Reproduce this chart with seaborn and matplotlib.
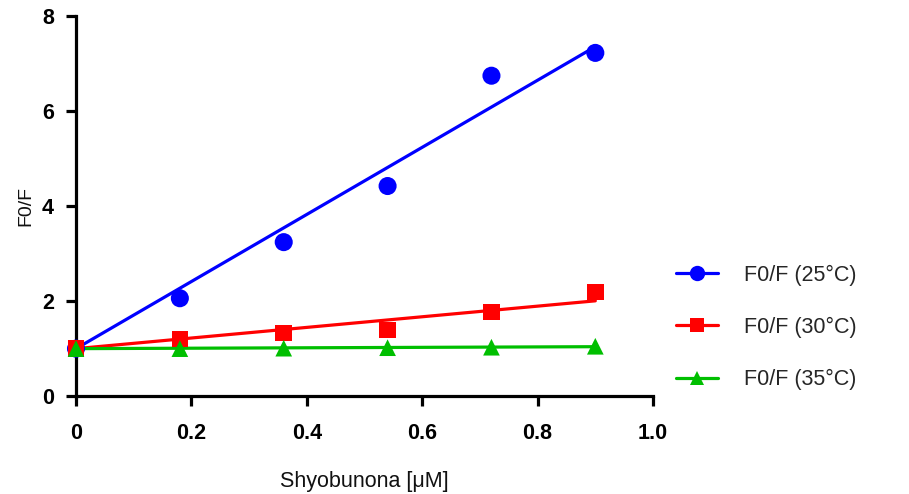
import numpy as np
import pandas as pd
import matplotlib
matplotlib.use("Agg")
import matplotlib.pyplot as plt
from matplotlib.lines import Line2D
import seaborn as sns

conc = [0.0, 0.18, 0.36, 0.54, 0.72, 0.90]
f25 = [1.0, 2.06, 3.24, 4.42, 6.74, 7.22]
f30 = [1.0, 1.20, 1.33, 1.39, 1.77, 2.19]
f35 = [1.0, 1.00, 1.01, 1.02, 1.03, 1.05]
series_labels = ["F0/F (25°C)", "F0/F (30°C)", "F0/F (35°C)"]
xticks = [0, 0.2, 0.4, 0.6, 0.8, 1.0]
xticklabels = ["0", "0.2", "0.4", "0.6", "0.8", "1.0"]
yticks = [0, 2, 4, 6, 8]

colors = ["#0000FF", "#FF0000", "#00BF00"]
markers = ["o", "s", "^"]
msizes = [13, 12, 12]

sns.set_theme(style="white")
plt.rcParams["font.family"] = ["Liberation Sans", "DejaVu Sans"]

fig = plt.figure(figsize=(9.09, 4.94), dpi=100)
ax = fig.add_axes([0.0836, 0.198, 0.6348, 0.770])

x = np.array(conc)
handles = []
for vals, lab, c, m, ms in zip([f25, f30, f35], series_labels, colors, markers, msizes):
    y = np.array(vals)
    # Stern-Volmer fit constrained through F0/F = 1 at zero concentration
    k = np.sum(x * (y - 1)) / np.sum(x * x)
    fit = pd.DataFrame({"x": [x.min(), x.max()], "y": [1.0, 1.0 + k * x.max()]})
    sns.lineplot(data=fit, x="x", y="y", color=c, linewidth=2.3, ax=ax, zorder=2)
    pts = pd.DataFrame({"x": x, "y": y})
    sns.scatterplot(data=pts, x="x", y="y", color=c, marker=m, s=ms ** 2,
                    edgecolor="none", linewidth=0, ax=ax, zorder=3, clip_on=False)
    handles.append(Line2D([0], [0], color=c, lw=2.3, marker=m, markersize=ms * 0.85,
                          markeredgewidth=0, label=lab))

ax.set_xlim(0, 1.0)
ax.set_ylim(0, 8)
ax.set_xticks(xticks)
ax.set_xticklabels(xticklabels)
ax.set_yticks(yticks)
ax.set_yticklabels([str(v) for v in yticks])

for side in ["top", "right"]:
    ax.spines[side].set_visible(False)
for side in ["left", "bottom"]:
    ax.spines[side].set_linewidth(2.3)
    ax.spines[side].set_color("black")

ax.tick_params(axis="both", which="major", direction="out", length=7, width=2.3,
               colors="black", labelsize=15.5, bottom=True, left=True)
ax.tick_params(axis="x", pad=12)
ax.tick_params(axis="y", pad=9)
for t in ax.get_xticklabels() + ax.get_yticklabels():
    t.set_fontweight("bold")

ax.set_xlabel("Shyobunona [μM]", fontsize=15.5, labelpad=20, color="#111111")
ax.set_ylabel("F0/F", fontsize=14, labelpad=5, color="#111111")

leg = ax.legend(handles=handles, loc="center left", bbox_to_anchor=(1.025, 0.181),
                frameon=False, fontsize=15.5, handlelength=1.95, labelspacing=1.45,
                handletextpad=1.2, borderaxespad=0)

fig.savefig("out.png", dpi=100)
